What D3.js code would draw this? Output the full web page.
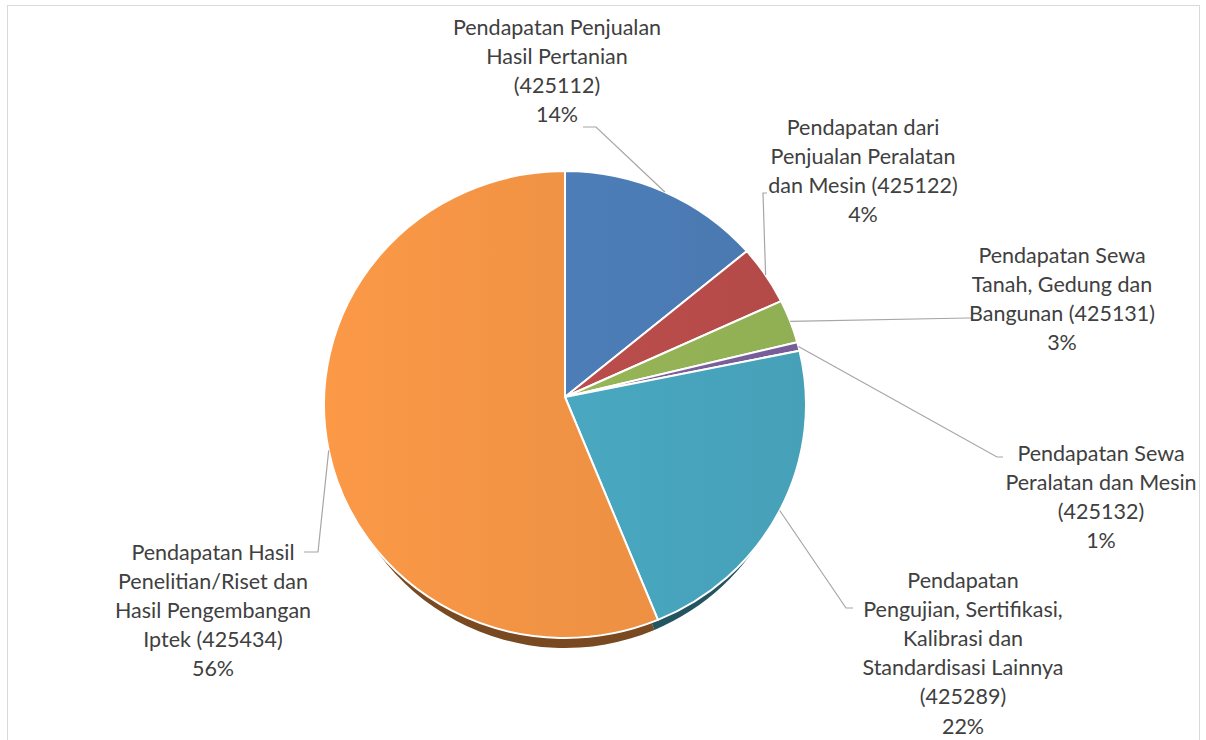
<!DOCTYPE html>
<html>
<head>
<meta charset="utf-8">
<script src="https://cdn.jsdelivr.net/npm/d3@7"></script>
<style>
  body { margin: 0; background: #fff; }
  svg { display: block; }
  text { font-family: Lato, "Open Sans", sans-serif; fill: #404040; }
</style>
</head>
<body>
<svg id="chart" width="1206" height="740"></svg>
<script>
// data
const categories = [
  ["Pendapatan Penjualan", "Hasil Pertanian", "(425112)"],
  ["Pendapatan dari", "Penjualan Peralatan", "dan Mesin (425122)"],
  ["Pendapatan Sewa", "Tanah, Gedung dan", "Bangunan (425131)"],
  ["Pendapatan Sewa", "Peralatan dan Mesin", "(425132)"],
  ["Pendapatan", "Pengujian, Sertifikasi,", "Kalibrasi dan", "Standardisasi Lainnya", "(425289)"],
  ["Pendapatan Hasil", "Penelitian/Riset dan", "Hasil Pengembangan", "Iptek (425434)"]
];
const shares = [13.6, 4.1, 3.0, 0.6, 22.4, 56.3];
const colors = ["#4f81bd", "#c0504d", "#9bbb59", "#8064a2", "#4bacc6", "#f79646"];

// label layout (center x, first line center y, leader elbow, leader end)
const labelLayout = [
  { x: 557, y: 27,  elbow: [596, 127], end: [583, 127] },
  { x: 863, y: 127, elbow: [763, 193], end: [767, 193] },
  { x: 1062, y: 255, elbow: [968, 318], end: [972, 318] },
  { x: 1101, y: 453, elbow: [997, 457], end: [1003, 457] },
  { x: 963, y: 580, elbow: [846, 608], end: [853, 608] },
  { x: 213, y: 552, elbow: [318, 552], end: [304, 552] }
];

const svg = d3.select("#chart");

// chart frame
svg.append("rect")
  .attr("x", 7.5).attr("y", 5.5)
  .attr("width", 1192).attr("height", 800)
  .attr("fill", "none")
  .attr("stroke", "#d9d9d9");

// pie geometry (slightly tilted 3D pie)
const cx = 565, cy = 404.5, rx = 241, ry = 233.5;
const apex = [565, 397];
const depth = 10;

const pie = d3.pie().sort(null).value(d => d)(shares);
const pt = (a, dy = 0, r = rx) => [cx + r * Math.sin(a), cy - ry * Math.cos(a) + dy];

function slicePath(d, dy = 0, r = rx) {
  const p0 = pt(d.startAngle, dy, r), p1 = pt(d.endAngle, dy, r);
  const large = d.endAngle - d.startAngle > Math.PI ? 1 : 0;
  return `M${apex[0]},${apex[1] + dy}L${p0[0]},${p0[1]}` +
         `A${r},${ry} 0 ${large} 1 ${p1[0]},${p1[1]}Z`;
}

// gradients
const defs = svg.append("defs");
colors.forEach((c, i) => {
  const lg = defs.append("linearGradient")
    .attr("id", "g" + i)
    .attr("gradientUnits", "userSpaceOnUse")
    .attr("x1", cx - rx).attr("x2", cx + rx)
    .attr("y1", 0).attr("y2", 0);
  lg.append("stop").attr("offset", "0%").attr("stop-color", d3.color(c).brighter(0.05));
  lg.append("stop").attr("offset", "100%").attr("stop-color", d3.color(c).darker(0.2));
});

// side wall
svg.append("g")
  .selectAll("path")
  .data(pie)
  .join("path")
    .attr("d", d => slicePath(d, depth, rx - 9))
    .attr("fill", (d, i) => d3.color(colors[i]).darker(2));

// top surface
svg.append("g")
  .selectAll("path")
  .data(pie)
  .join("path")
    .attr("d", d => slicePath(d))
    .attr("fill", (d, i) => `url(#g${i})`)
    .attr("stroke", "#fff")
    .attr("stroke-width", 2)
    .attr("stroke-linejoin", "round");

// leader lines
svg.append("g")
  .selectAll("polyline")
  .data(pie)
  .join("polyline")
    .attr("points", (d, i) => {
      const a = pt((d.startAngle + d.endAngle) / 2);
      const L = labelLayout[i];
      return [a, L.elbow, L.end].map(p => p.join(",")).join(" ");
    })
    .attr("fill", "none")
    .attr("stroke", "#a6a6a6")
    .attr("stroke-width", 1.2);

// labels
const lineH = 29.2;
const lab = svg.append("g")
  .selectAll("text")
  .data(pie)
  .join("text")
    .attr("text-anchor", "middle")
    .style("font-size", "21.5px");

lab.each(function(d, i) {
  const L = labelLayout[i];
  const lines = categories[i].concat([Math.round(d.value) + "%"]);
  d3.select(this).selectAll("tspan")
    .data(lines)
    .join("tspan")
      .attr("x", L.x)
      .attr("y", (t, j) => L.y + j * lineH)
      .attr("dy", "0.35em")
      .text(t => t);
});
</script>
</body>
</html>
